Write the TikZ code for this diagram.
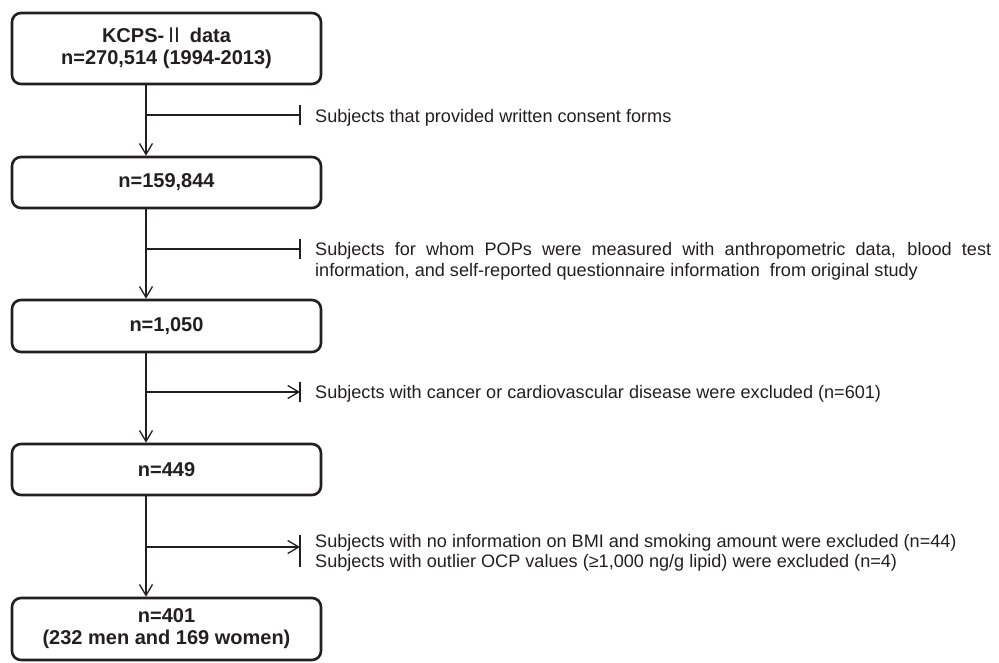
\documentclass[tikz,border=0pt]{standalone}
\usepackage{fontspec}
\setmainfont{Liberation Sans}
\newfontfamily\cjk{Noto Sans CJK KR}
\usetikzlibrary{arrows.meta,calc}
\definecolor{ink}{HTML}{231F20}
\begin{document}
\begin{tikzpicture}[x=1pt,y=-1pt,
  box/.style={draw=ink, line width=2.6pt, rounded corners=9pt, minimum width=309pt,
    inner sep=0pt, align=center, font=\fontsize{20}{22}\selectfont\bfseries, text=ink},
  conn/.style={draw=ink, line width=1.3pt},
  arr/.style={conn, -{Straight Barb[length=11pt,width=13pt,line width=1.3pt]}},
  lbl/.style={anchor=base west, inner sep=0pt, font=\fontsize{18.1}{21}\selectfont, text=ink}]
\useasboundingbox (0,0) rectangle (999,663);

% boxes
\node[box, minimum height=71pt] (b1) at (166.5,48.5) {KCPS-{\cjk\mdseries Ⅱ} data\\n=270,514 (1994-2013)};
\node[box, minimum height=51pt] (b2) at (166.5,182.5) {n=159,844};
\node[box, minimum height=52pt] (b3) at (166.5,326) {n=1,050};
\node[box, minimum height=51pt] (b4) at (166.5,469.5) {n=449};
\node[box, minimum height=62pt] (b5) at (166.5,629) {n=401\\(232 men and 169 women)};

% spine
\coordinate (spine) at (146,0);
\draw[arr] (b1.south -| spine) -- (b2.north -| spine);
\draw[arr] (b2.south -| spine) -- (b3.north -| spine);
\draw[arr] (b3.south -| spine) -- (b4.north -| spine);
\draw[arr] (b4.south -| spine) -- (b5.north -| spine);

% branches
\coordinate (k1) at (300,115);
\coordinate (k2) at (300,249);
\coordinate (k3) at (300,392);
\coordinate (k4) at (300,547);
\draw[conn] (spine |- k1) -- (k1);
\draw[conn] ($(k1)+(0,-10)$) -- ($(k1)+(0,10)$);
\draw[conn] (spine |- k2) -- (k2);
\draw[conn] ($(k2)+(0,-10)$) -- ($(k2)+(0,10)$);
\draw[arr] (spine |- k3) -- (k3);
\draw[conn] ($(k3)+(0,-10)$) -- ($(k3)+(0,10)$);
\draw[arr] (spine |- k4) -- (k4);
\draw[conn] ($(k4)+(0,-12)$) -- ($(k4)+(0,20)$);

% labels
\node[lbl] (t1) at (315,123) {Subjects that provided written consent forms};
\node[lbl] (t2a) at (315,255.5) {\makebox[676pt][s]{Subjects for whom POPs were measured with anthropometric data, blood test}};
\node[lbl] (t2b) at (315,276.5) {information, and self-reported questionnaire information\ \ from original study};
\node[lbl] (t3) at (315,398.5) {Subjects with cancer or cardiovascular disease were excluded (n=601)};
\node[lbl] (t4a) at (315,547.5) {Subjects with no information on BMI and smoking amount were excluded (n=44)};
\node[lbl] (t4b) at (315,567.5) {Subjects with outlier OCP values (≥1,000 ng/g lipid) were excluded (n=4)};
\end{tikzpicture}
\end{document}
